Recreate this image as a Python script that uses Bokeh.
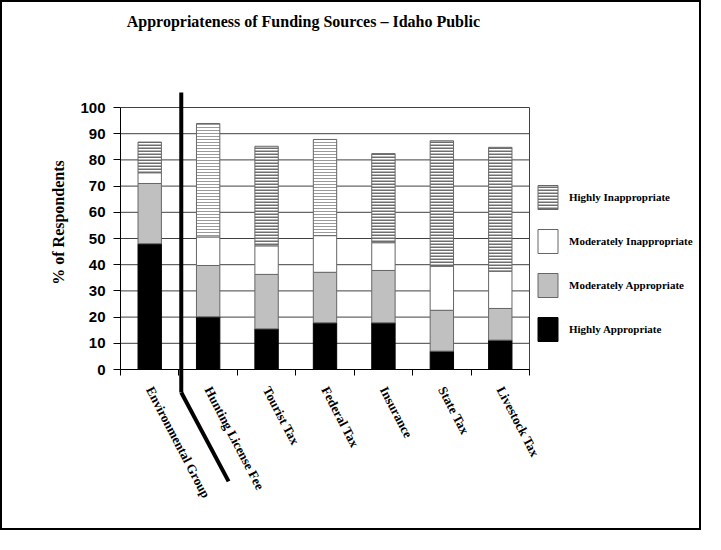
import math
from bokeh.plotting import figure
from bokeh.models import (ColumnDataSource, Range1d, FixedTicker, Legend, LegendItem,
                          Label, Arrow)
from bokeh.transform import stack
from bokeh.embed import file_html
from bokeh.resources import INLINE

# ---------------- data ----------------
categories = ["Environmental Group", "Hunting License Fee", "Tourist Tax", "Federal Tax",
              "Insurance", "State Tax", "Livestock Tax"]
highly_appropriate = [48.0, 20.1, 15.5, 17.8, 17.8, 7.0, 11.2]
moderately_appropriate = [23.0, 19.6, 20.8, 19.3, 20.0, 15.6, 12.1]
moderately_inappropriate = [4.1, 10.9, 10.9, 14.0, 10.6, 16.8, 14.2]
highly_inappropriate = [11.7, 43.3, 38.0, 36.7, 34.0, 47.9, 47.3]
hatch_shade = ["dark", "light", "dark", "light", "dark", "dark", "dark"]
y_ticks = [0, 10, 20, 30, 40, 50, 60, 70, 80, 90, 100]
title_text = "Appropriateness of Funding Sources \u2013 Idaho Public"
y_title = "% of Respondents"

# ---------------- layout (pixels) ----------------
W, H = 701, 530
PL, PT, PW, PH = 118, 105, 409, 262      # plot-area box inside the canvas

n = len(categories)
y_min, y_max = y_ticks[0], y_ticks[-1]
xs_per_px = n / PW
ys_per_px = (y_max - y_min) / PH
x_range = Range1d(-PL * xs_per_px, (W - PL) * xs_per_px)
y_range = Range1d(y_min - (H - PT - PH) * ys_per_px, y_max + PT * ys_per_px)

x_pos = [i + 0.5 for i in range(n)]
src = ColumnDataSource(dict(
    x=x_pos,
    ha=highly_appropriate,
    ma=moderately_appropriate,
    mi=moderately_inappropriate,
    hi=highly_inappropriate,
    hcolor=["#6e6e6e" if s == "dark" else "#9a9a9a" for s in hatch_shade],
    hweight=[2 if s == "dark" else 1 for s in hatch_shade],
))

p = figure(width=W, height=H, x_range=x_range, y_range=y_range,
           output_backend="svg", toolbar_location=None,
           min_border_left=0, min_border_right=0, min_border_top=0, min_border_bottom=0)
p.background_fill_color = "white"
p.border_fill_color = "white"
p.outline_line_color = None
p.styles = {"border": "2px solid black"}

serif = "Liberation Serif"
sans = "Liberation Sans"

# horizontal grid lines across the plot area only, and its right edge
p.xgrid.visible = False
p.ygrid.visible = False
p.segment(x0=[0] * len(y_ticks), y0=y_ticks, x1=[n] * len(y_ticks), y1=y_ticks,
          line_color="#404040", line_width=1)
p.segment(x0=[n], y0=[y_min], x1=[n], y1=[y_max], line_color="#404040", line_width=1)

bar_w = 0.4
edge = "#666666"
r_ha = p.vbar(x="x", width=bar_w, bottom=0, top=stack("ha"), source=src,
              fill_color="black", line_color="black")
r_ma = p.vbar(x="x", width=bar_w, bottom=stack("ha"), top=stack("ha", "ma"), source=src,
              fill_color="#c0c0c0", line_color=edge)
r_mi = p.vbar(x="x", width=bar_w, bottom=stack("ha", "ma"), top=stack("ha", "ma", "mi"),
              source=src, fill_color="white", line_color=edge)
r_hi = p.vbar(x="x", width=bar_w, bottom=stack("ha", "ma", "mi"),
              top=stack("ha", "ma", "mi", "hi"), source=src,
              fill_color="white", line_color=edge,
              hatch_pattern="horizontal_line", hatch_color="hcolor",
              hatch_weight="hweight", hatch_scale=3)

# y axis, fixed at x = 0
p.yaxis.fixed_location = 0
p.yaxis.bounds = (y_min, y_max)
p.yaxis.ticker = FixedTicker(ticks=y_ticks)
p.yaxis.axis_line_color = "black"
p.yaxis.major_tick_line_color = "black"
p.yaxis.major_tick_out = 7
p.yaxis.major_tick_in = 0
p.yaxis.minor_tick_line_color = None
p.yaxis.major_label_text_font = sans
p.yaxis.major_label_text_font_style = "bold"
p.yaxis.major_label_text_font_size = "15px"
p.yaxis.major_label_text_color = "black"
p.yaxis.major_label_standoff = 8

# x axis, fixed at y = 0: labels at centres, ticks at category boundaries
p.xaxis.fixed_location = 0
p.xaxis.bounds = (0, n)
p.xaxis.ticker = FixedTicker(ticks=x_pos, minor_ticks=list(range(n + 1)))
p.xaxis.major_label_overrides = {x: c for x, c in zip(x_pos, categories)}
p.xaxis.major_tick_line_color = None
p.xaxis.major_tick_out = 0
p.xaxis.major_tick_in = 0
p.xaxis.minor_tick_line_color = "black"
p.xaxis.minor_tick_out = 6
p.xaxis.minor_tick_in = 0
p.xaxis.axis_line_color = "black"
p.xaxis.major_label_orientation = -1.09
p.xaxis.major_label_text_font = serif
p.xaxis.major_label_text_font_style = "bold"
p.xaxis.major_label_text_font_size = "13px"
p.xaxis.major_label_text_color = "black"
p.xaxis.major_label_standoff = 12

# legend
legend = Legend(items=[
    LegendItem(label="Highly Inappropriate", renderers=[r_hi]),
    LegendItem(label="Moderately Inappropriate", renderers=[r_mi]),
    LegendItem(label="Moderately Appropriate", renderers=[r_ma]),
    LegendItem(label="Highly Appropriate", renderers=[r_ha]),
], location=(533, 188), glyph_width=25, glyph_height=30, spacing=14, padding=0, margin=0,
    border_line_color=None, background_fill_alpha=0, label_standoff=9,
    label_text_font=serif, label_text_font_style="bold", label_text_font_size="11px",
    label_text_color="black")
p.add_layout(legend)

# title and y-axis title
p.add_layout(Label(x=3.13, y=132.8, text=title_text, text_align="center",
                   text_baseline="middle", text_font=serif, text_font_style="bold",
                   text_font_size="16px", text_color="black"))
p.add_layout(Label(x=-1.06, y=56.1, text=y_title, angle=math.pi / 2, text_align="center",
                   text_baseline="middle", text_font=serif, text_font_style="bold",
                   text_font_size="16px", text_color="black"))

# thick separator line drawn on the original chart
p.add_layout(Arrow(end=None, x_start=1.04, y_start=105.7, x_end=1.04, y_end=-8.8,
                   line_width=4, line_color="black"))
p.add_layout(Arrow(end=None, x_start=1.04, y_start=-8.8, x_end=1.85, y_end=-42.7,
                   line_width=4, line_color="black"))

open("out.html", "w").write(file_html(p, INLINE))
